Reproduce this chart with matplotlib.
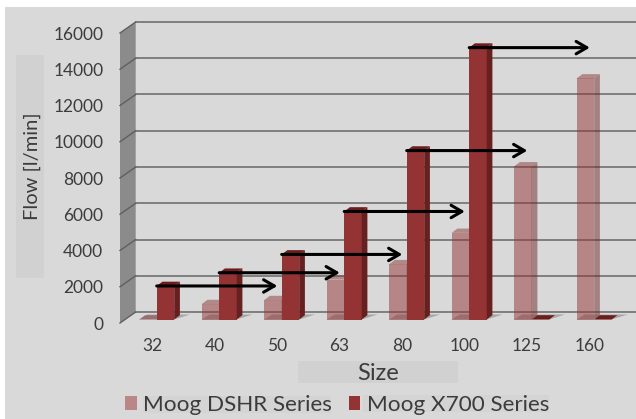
import matplotlib
matplotlib.use("Agg")
import matplotlib.pyplot as plt
from matplotlib.patches import Rectangle, Patch

sizes = ["32", "40", "50", "63", "80", "100", "125", "160"]
dshr = [0, 850, 1070, 2200, 3050, 4780, 8450, 13300]
x700 = [1850, 2580, 3590, 5960, 9320, 15000, 0, 0]
yticks = [0, 2000, 4000, 6000, 8000, 10000, 12000, 14000, 16000]

W, H = 636, 419
FONT = "Lato"
TXT = "#3c3c3c"
BG = "#d9d9d9"
plt.rcParams["font.family"] = [FONT, "DejaVu Sans"]

fig = plt.figure(figsize=(W / 100, H / 100), dpi=100, facecolor="white")

def fig_rect(x0, y0, x1, y1, color):
    fig.add_artist(Rectangle((x0 / W, 1 - y1 / H), (x1 - x0) / W, (y1 - y0) / H,
                             transform=fig.transFigure, facecolor=color, edgecolor="none", zorder=-5))

fig_rect(5, 7, 636, 419, BG)
fig_rect(16, 55, 44, 278, "#d1d1d1")
fig_rect(298, 361, 458, 383, "#d1d1d1")
fig_rect(143, 396, 331, 413, "#d4d4d4")
fig_rect(363, 395, 549, 412, "#d4d4d4")

L, R, T, B = 120, 636, 33, 323
ax = fig.add_axes([L / W, 1 - B / H, (R - L) / W, (B - T) / H])
ax.patch.set_visible(False)
STEP = 62.5
ax.set_xlim((L - 152) / STEP, (R - 152) / STEP)
ax.set_ylim(0, 16000)
PY = 16000 / (B - T)
PX = 1 / STEP

# walls and gridlines
wx, wy = 15.7 * PX, 11 * PY
x0 = ax.get_xlim()[0]
x1 = ax.get_xlim()[1]
ax.fill([x0, x0 + wx, x0 + wx, x0], [0, wy, 16000 + wy, 16000],
        color="#8b8b8b", lw=0, zorder=1, clip_on=False)
for v in yticks:
    ax.plot([x0 + wx, x1], [v + wy, v + wy], color="#707070", lw=1.2, zorder=2, clip_on=False)
    ax.plot([x0, x0 + wx], [v, v + wy], color="#5f5f5f", lw=1.0, zorder=2, clip_on=False)

# bars
base = 3.5 * PY
shift = 4.7 * PX
bw = 17.5 * PX
dx, dy = 5.7 * PX, 4.3 * PY

def bar3d(left, value, front, side, top, alpha, z):
    b = base
    t = base + value
    if value > 0:
        ax.bar(left, value, width=bw, bottom=b, align="edge", color=front, alpha=alpha, lw=0, zorder=z)
        ax.fill([left + bw, left + bw + dx, left + bw + dx, left + bw],
                [b, b + dy, t + dy, t], color=side, alpha=alpha, lw=0, zorder=z)
    ax.fill([left, left + bw, left + bw + dx, left + dx],
            [t, t, t + dy, t + dy], color=top, alpha=alpha, lw=0, zorder=z)

for i in range(len(sizes)):
    c = i + shift
    # floor shadow
    ax.fill([c - bw, c + bw, c + bw + 16 * PX, c - bw + 8 * PX],
            [base, base, base + 5 * PY, base + 5 * PY],
            color="#6a6a6a", alpha=0.45, lw=0, zorder=3)
    bar3d(c - bw, dshr[i], "#943333", "#6e2a2a", "#8c3a3a", 0.5, 4)
    bar3d(c, x700[i], "#943333", "#662020", "#6e1c1c", 1.0, 5)

# arrows from each X700 bar top
for i, v in enumerate(x700):
    if v > 0:
        ax.annotate("", xy=(i + shift + 1.93, base + v), xytext=(i + shift, base + v),
                    arrowprops=dict(arrowstyle="->,head_length=0.55,head_width=0.32", color="black",
                                    lw=2.2, shrinkA=0, shrinkB=0, mutation_scale=14), zorder=6)

# axes text
for s in ax.spines.values():
    s.set_visible(False)
ax.set_yticks(yticks)
ax.set_xticks(range(len(sizes)))
ax.set_xticklabels(sizes)
ax.tick_params(axis="both", length=0, labelsize=12.5, labelcolor=TXT)
ax.tick_params(axis="y", pad=12)
ax.tick_params(axis="x", pad=11)
ax.set_xlabel("Size", fontsize=17, color=TXT, va="center")
ax.xaxis.set_label_coords((378 - L) / (R - L), -(373 - B) / (B - T), transform=ax.transAxes)
ax.set_ylabel("Flow [l/min]", fontsize=14.5, color=TXT, va="center")
ax.yaxis.set_label_coords((32 - L) / (R - L), (B - 166) / (B - T), transform=ax.transAxes)

handles = [Patch(facecolor="#bb8686", edgecolor="none", label="Moog DSHR Series"),
           Patch(facecolor="#943333", edgecolor="none", label="Moog X700 Series")]
ax.legend(handles=handles, ncol=2, frameon=False, fontsize=16.2, labelcolor=TXT,
          loc="center", bbox_to_anchor=((337.5 - L) / (R - L), -(405 - B) / (B - T)),
          handlelength=0.5, handleheight=0.6, handletextpad=0.3, columnspacing=0.75, borderpad=0, borderaxespad=0)

fig.savefig("out.png", dpi=100, facecolor="white")
